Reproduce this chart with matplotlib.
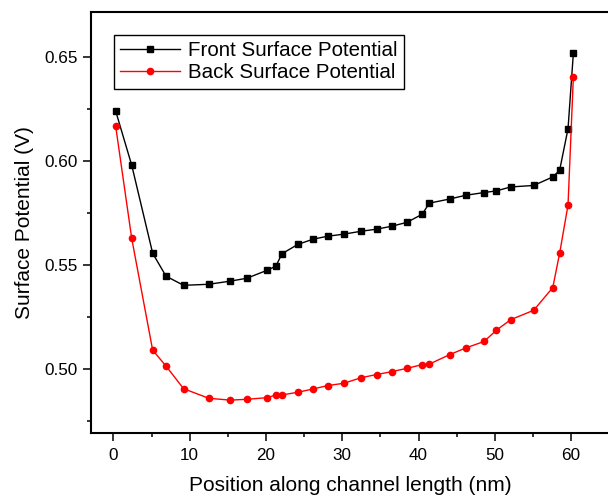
import matplotlib
matplotlib.use("Agg")
import matplotlib.pyplot as plt
from matplotlib.ticker import MultipleLocator

plt.rcParams['font.family'] = ['Liberation Sans', 'DejaVu Sans']

x_pos = [0.3, 2.4, 5.15, 6.9, 9.2, 12.5, 15.3, 17.5, 20.2, 21.3, 22.1, 24.2, 26.2,
         28.1, 30.2, 32.5, 34.5, 36.5, 38.5, 40.5, 41.4, 44.1, 46.2, 48.6, 50.2,
         52.1, 55.1, 57.6, 58.5, 59.6, 60.3]
front = [0.624, 0.598, 0.5556, 0.5446, 0.5402, 0.5407, 0.5422, 0.5436, 0.5475,
         0.5494, 0.5554, 0.5599, 0.5624, 0.5638, 0.5648, 0.5662, 0.5672, 0.5686,
         0.5705, 0.5744, 0.5797, 0.5817, 0.5835, 0.5848, 0.5856, 0.5875, 0.5882,
         0.5923, 0.5955, 0.6155, 0.6518]
back = [0.6167, 0.5628, 0.5090, 0.5014, 0.4905, 0.4859, 0.4850, 0.4854, 0.4862,
        0.4875, 0.4875, 0.4888, 0.4904, 0.4920, 0.4931, 0.4958, 0.4973, 0.4987,
        0.5003, 0.5021, 0.5023, 0.5069, 0.5101, 0.5132, 0.5186, 0.5237, 0.5282,
        0.5391, 0.5556, 0.5788, 0.6404]

fig = plt.figure(figsize=(6.08, 4.97), dpi=100)
ax = fig.add_axes([90.5/608, 64/497, (608-90.5)/608 + 0.002, (433-12)/497])

ax.plot(x_pos, front, color='black', marker='s', markersize=4.5, linewidth=1,
        label='Front Surface Potential')
ax.plot(x_pos, back, color='red', marker='o', markersize=4.5, linewidth=1,
        label='Back Surface Potential')

ax.set_xlim(-3, 65)
ax.set_ylim(0.4692, 0.6716)
ax.xaxis.set_major_locator(MultipleLocator(10))
ax.xaxis.set_minor_locator(MultipleLocator(5))
ax.yaxis.set_major_locator(MultipleLocator(0.05))
ax.yaxis.set_minor_locator(MultipleLocator(0.025))
ax.tick_params(which='major', direction='out', length=5.5, width=1.1,
               labelsize=12.3, pad=4)
ax.tick_params(axis='x', which='major', pad=5.5)
ax.tick_params(which='minor', direction='out', length=3, width=1.1)
for s in ax.spines.values():
    s.set_linewidth(1.5)

ax.set_xlabel('Position along channel length (nm)', fontsize=15, labelpad=9)
ax.set_ylabel('Surface Potential (V)', fontsize=15, labelpad=7)

leg = ax.legend(loc='upper left', bbox_to_anchor=(0.045, 0.945), fontsize=14.8,
                frameon=True, fancybox=False, edgecolor='black', framealpha=1,
                handlelength=2.9, borderpad=0.3, labelspacing=0.15,
                handletextpad=0.4, borderaxespad=0)
leg.get_frame().set_linewidth(1)

fig.savefig('out.png', dpi=100)
